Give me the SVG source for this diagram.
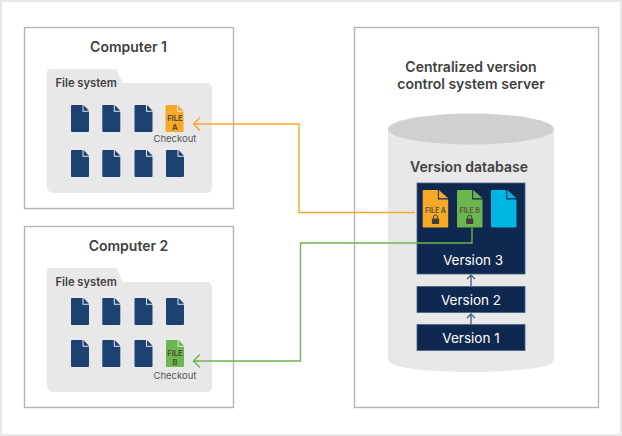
<svg xmlns="http://www.w3.org/2000/svg" width="622" height="436" viewBox="0 0 622 436">
<style>
text{font-family:Inter,"Liberation Sans",sans-serif;text-anchor:middle;fill:#3f3f3f}
.t{font-size:14px;font-weight:600}
.fs{font-size:11.200px;font-weight:600;text-anchor:start}
.c{font-size:9.500px;font-weight:400;fill:#555}
.box{fill:#fff;stroke:#b5b5b5;stroke-width:1.4}
.folder{fill:#e8e8e8}
.vb{fill:#0f284f;stroke:#4a6283;stroke-width:.8}
.vt{font-size:13.500px;fill:#fff}
.fl{font-size:7.500px;font-weight:700;fill:#55503a}
.big{font-size:7px;font-weight:700;fill:#625c40}
.conn{fill:none;stroke-width:1.4}
</style>
<defs>
<g id="page"><path d="M0 1a1 1 0 0 1 1-1H11.500V6.800H18V26a1 1 0 0 1-1 1H1a1 1 0 0 1-1-1Z"/><path d="M12.500 0 18 5.800H12.500Z"/></g>
<use id="doc" href="#page" fill="#1d4171"/>
<g id="bigpage"><path d="M0 1a1 1 0 0 1 1-1H15.200V9.500H25.500V36.500a1 1 0 0 1-1 1H1a1 1 0 0 1-1-1Z"/><path d="M16.200 0 25.500 8.300H16.200Z"/></g>
<g id="lock"><rect x="-3.600" y="-2" width="7.200" height="5.500" rx=".6" fill="#3f3f35"/><path d="M-2-2V-3.500a2 2 0 0 1 4 0V-2" fill="none" stroke="#3f3f35" stroke-width="1"/></g>
<path id="fold" d="M0 3a3 3 0 0 1 3-3H69L76 14H160a5 5 0 0 1 5 5V119a5 5 0 0 1-5 5H6a6 6 0 0 1-6-6Z"/>
</defs>
<rect x="1" y="1" width="620" height="434" fill="#fff" stroke="#e8e8e8" stroke-width="2"/>
<g id="computer-1">
<rect class="box" x="24.500" y="27.500" width="209" height="181"/>
<text class="t" x="128.500" y="52">Computer 1</text>
<use href="#fold" class="folder" x="47" y="69"/>
<text class="fs" x="55.500" y="87">File system</text>
<use href="#doc" x="71" y="105"/><use href="#doc" x="102.300" y="105"/><use href="#doc" x="134.500" y="105"/>
<use href="#page" x="165.500" y="105" fill="#f7a827"/>
<text class="fl" x="174.800" y="121">FILE</text><text class="fl" x="174.800" y="129.500">A</text>
<text class="c" x="175" y="142">Checkout</text>
<use href="#doc" x="71" y="150"/><use href="#doc" x="102.300" y="150"/><use href="#doc" x="134.500" y="150"/><use href="#doc" x="166" y="150"/>
</g>
<g id="computer-2">
<rect class="box" x="24.500" y="226.500" width="209" height="181"/>
<text class="t" x="128.500" y="251">Computer 2</text>
<use href="#fold" class="folder" x="47" y="268"/>
<text class="fs" x="55.500" y="286">File system</text>
<use href="#doc" x="71" y="298"/><use href="#doc" x="102.300" y="298"/><use href="#doc" x="134.500" y="298"/><use href="#doc" x="166" y="298"/>
<use href="#doc" x="71" y="340"/><use href="#doc" x="102.300" y="340"/><use href="#doc" x="134.500" y="340"/>
<use href="#page" x="166" y="340" fill="#6cb64f"/>
<text class="fl" x="175" y="356">FILE</text><text class="fl" x="175" y="365">B</text>
<text class="c" x="175" y="379">Checkout</text>
</g>
<g id="server">
<rect class="box" x="354.500" y="27.500" width="244" height="380"/>
<text class="t" x="471" y="72">Centralized version</text>
<text class="t" x="471" y="89">control system server</text>
<path d="M388 129V360C388 376 554 376 554 360V129Z" fill="#e8e8e8"/>
<ellipse cx="471" cy="129" rx="83" ry="15.500" fill="#d0d0d0"/>
<text class="t" x="469" y="172">Version database</text>
</g>
<g id="version-3">
<rect class="vb" x="417" y="183" width="108" height="91"/>
<use href="#bigpage" x="422.700" y="190" fill="#f7a827"/>
<use href="#bigpage" x="457" y="190" fill="#6cb64f"/>
<use href="#bigpage" x="491" y="190" fill="#00b5e2"/>
<text class="big" x="435.500" y="212.500">FILE A</text><use href="#lock" x="435.500" y="220.500"/>
<text class="big" x="469.700" y="212.500">FILE B</text><use href="#lock" x="469.700" y="220.500"/>
<text class="vt" x="473" y="264.500">Version 3</text>
</g>
<g id="version-2"><rect class="vb" x="417" y="286.500" width="108" height="26"/><text class="vt" x="471" y="305">Version 2</text></g>
<g id="version-1"><rect class="vb" x="417" y="324.500" width="108" height="26"/><text class="vt" x="471" y="343">Version 1</text></g>
<g id="connectors">
<path class="conn" stroke="#f7a827" d="M415 212.500H299V124H194M200 117.500 193.500 124 200 130.500"/>
<path class="conn" stroke="#6cb64f" d="M472 228V243H300.500V361H194M200 354.500 193.500 361 200 367.500"/>
<path class="conn" stroke="#4a6283" d="M471 286V275M467 279 471 275 475 279"/>
<path class="conn" stroke="#4a6283" d="M471 324V314M467 318 471 314 475 318"/>
</g>
</svg>
